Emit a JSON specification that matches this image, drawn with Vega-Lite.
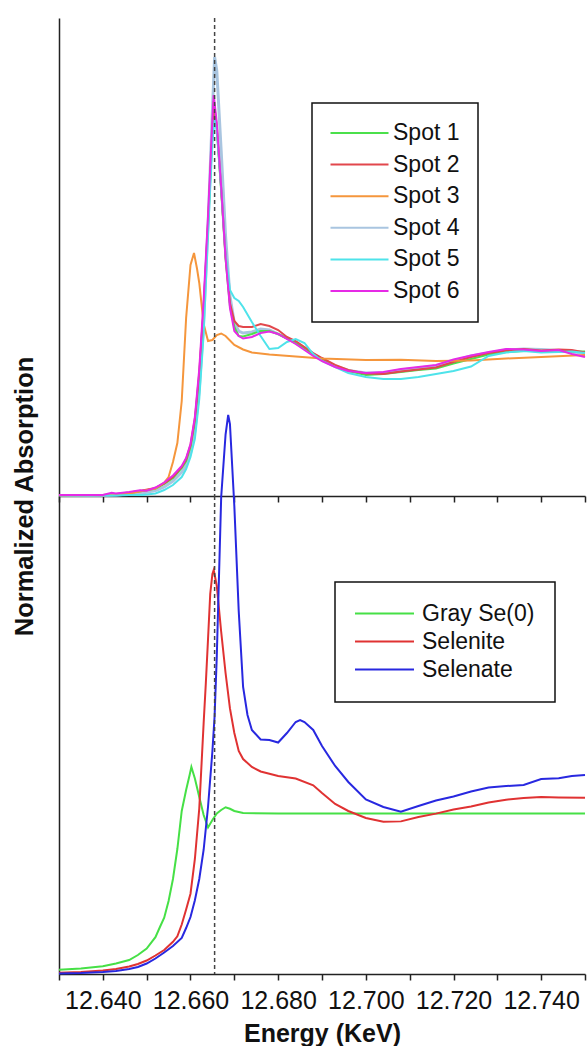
{
"$schema": "https://vega.github.io/schema/vega-lite/v6.json",
"padding": {"left": 12, "top": 17, "right": 0, "bottom": 0},
"config": {"font": "Liberation Sans", "view": {"stroke": null}, "axis": {"grid": false, "domainColor": "#222", "domainWidth": 1.5, "tickColor": "#222", "tickWidth": 1.5}},
"datasets": {
"edge": [{"energy": 12.6655}],
"spots": [
{"energy":12.630,"absorption":0.004,"sample":"Spot 4"},{"energy":12.635,"absorption":0.004,"sample":"Spot 4"},{"energy":12.640,"absorption":0.004,"sample":"Spot 4"},{"energy":12.643,"absorption":0.008,"sample":"Spot 4"},{"energy":12.646,"absorption":0.016,"sample":"Spot 4"},{"energy":12.649,"absorption":0.024,"sample":"Spot 4"},{"energy":12.652,"absorption":0.044,"sample":"Spot 4"},{"energy":12.654,"absorption":0.072,"sample":"Spot 4"},{"energy":12.656,"absorption":0.120,"sample":"Spot 4"},{"energy":12.658,"absorption":0.192,"sample":"Spot 4"},{"energy":12.659,"absorption":0.248,"sample":"Spot 4"},{"energy":12.660,"absorption":0.344,"sample":"Spot 4"},{"energy":12.661,"absorption":0.520,"sample":"Spot 4"},{"energy":12.662,"absorption":0.856,"sample":"Spot 4"},{"energy":12.663,"absorption":1.400,"sample":"Spot 4"},{"energy":12.664,"absorption":2.160,"sample":"Spot 4"},{"energy":12.665,"absorption":3.080,"sample":"Spot 4"},{"energy":12.6655,"absorption":3.512,"sample":"Spot 4"},{"energy":12.666,"absorption":3.400,"sample":"Spot 4"},{"energy":12.667,"absorption":2.760,"sample":"Spot 4"},{"energy":12.668,"absorption":2.080,"sample":"Spot 4"},{"energy":12.669,"absorption":1.600,"sample":"Spot 4"},{"energy":12.670,"absorption":1.384,"sample":"Spot 4"},{"energy":12.671,"absorption":1.320,"sample":"Spot 4"},{"energy":12.672,"absorption":1.304,"sample":"Spot 4"},{"energy":12.674,"absorption":1.312,"sample":"Spot 4"},{"energy":12.676,"absorption":1.336,"sample":"Spot 4"},{"energy":12.678,"absorption":1.328,"sample":"Spot 4"},{"energy":12.680,"absorption":1.296,"sample":"Spot 4"},{"energy":12.682,"absorption":1.264,"sample":"Spot 4"},{"energy":12.684,"absorption":1.224,"sample":"Spot 4"},{"energy":12.686,"absorption":1.184,"sample":"Spot 4"},{"energy":12.688,"absorption":1.136,"sample":"Spot 4"},{"energy":12.690,"absorption":1.096,"sample":"Spot 4"},{"energy":12.693,"absorption":1.040,"sample":"Spot 4"},{"energy":12.696,"absorption":1.004,"sample":"Spot 4"},{"energy":12.700,"absorption":0.984,"sample":"Spot 4"},{"energy":12.704,"absorption":0.984,"sample":"Spot 4"},{"energy":12.708,"absorption":1.008,"sample":"Spot 4"},{"energy":12.712,"absorption":1.024,"sample":"Spot 4"},{"energy":12.716,"absorption":1.040,"sample":"Spot 4"},{"energy":12.720,"absorption":1.080,"sample":"Spot 4"},{"energy":12.724,"absorption":1.120,"sample":"Spot 4"},{"energy":12.728,"absorption":1.144,"sample":"Spot 4"},{"energy":12.732,"absorption":1.168,"sample":"Spot 4"},{"energy":12.736,"absorption":1.176,"sample":"Spot 4"},{"energy":12.740,"absorption":1.172,"sample":"Spot 4"},{"energy":12.744,"absorption":1.164,"sample":"Spot 4"},{"energy":12.747,"absorption":1.152,"sample":"Spot 4"},{"energy":12.750,"absorption":1.144,"sample":"Spot 4"},
{"energy":12.630,"absorption":0.008,"sample":"Spot 1"},{"energy":12.635,"absorption":0.008,"sample":"Spot 1"},{"energy":12.640,"absorption":0.008,"sample":"Spot 1"},{"energy":12.643,"absorption":0.012,"sample":"Spot 1"},{"energy":12.646,"absorption":0.024,"sample":"Spot 1"},{"energy":12.649,"absorption":0.040,"sample":"Spot 1"},{"energy":12.652,"absorption":0.060,"sample":"Spot 1"},{"energy":12.654,"absorption":0.096,"sample":"Spot 1"},{"energy":12.656,"absorption":0.144,"sample":"Spot 1"},{"energy":12.658,"absorption":0.224,"sample":"Spot 1"},{"energy":12.659,"absorption":0.280,"sample":"Spot 1"},{"energy":12.660,"absorption":0.392,"sample":"Spot 1"},{"energy":12.661,"absorption":0.592,"sample":"Spot 1"},{"energy":12.662,"absorption":0.960,"sample":"Spot 1"},{"energy":12.663,"absorption":1.496,"sample":"Spot 1"},{"energy":12.664,"absorption":2.160,"sample":"Spot 1"},{"energy":12.665,"absorption":2.904,"sample":"Spot 1"},{"energy":12.6653,"absorption":3.112,"sample":"Spot 1"},{"energy":12.666,"absorption":2.936,"sample":"Spot 1"},{"energy":12.667,"absorption":2.440,"sample":"Spot 1"},{"energy":12.668,"absorption":1.896,"sample":"Spot 1"},{"energy":12.669,"absorption":1.520,"sample":"Spot 1"},{"energy":12.670,"absorption":1.352,"sample":"Spot 1"},{"energy":12.671,"absorption":1.280,"sample":"Spot 1"},{"energy":12.672,"absorption":1.276,"sample":"Spot 1"},{"energy":12.674,"absorption":1.296,"sample":"Spot 1"},{"energy":12.676,"absorption":1.320,"sample":"Spot 1"},{"energy":12.678,"absorption":1.320,"sample":"Spot 1"},{"energy":12.680,"absorption":1.296,"sample":"Spot 1"},{"energy":12.682,"absorption":1.260,"sample":"Spot 1"},{"energy":12.684,"absorption":1.224,"sample":"Spot 1"},{"energy":12.686,"absorption":1.184,"sample":"Spot 1"},{"energy":12.688,"absorption":1.136,"sample":"Spot 1"},{"energy":12.690,"absorption":1.096,"sample":"Spot 1"},{"energy":12.693,"absorption":1.040,"sample":"Spot 1"},{"energy":12.696,"absorption":1.000,"sample":"Spot 1"},{"energy":12.700,"absorption":0.968,"sample":"Spot 1"},{"energy":12.704,"absorption":0.976,"sample":"Spot 1"},{"energy":12.708,"absorption":0.992,"sample":"Spot 1"},{"energy":12.712,"absorption":1.008,"sample":"Spot 1"},{"energy":12.716,"absorption":1.020,"sample":"Spot 1"},{"energy":12.720,"absorption":1.060,"sample":"Spot 1"},{"energy":12.724,"absorption":1.096,"sample":"Spot 1"},{"energy":12.728,"absorption":1.132,"sample":"Spot 1"},{"energy":12.732,"absorption":1.152,"sample":"Spot 1"},{"energy":12.736,"absorption":1.160,"sample":"Spot 1"},{"energy":12.740,"absorption":1.160,"sample":"Spot 1"},{"energy":12.744,"absorption":1.160,"sample":"Spot 1"},{"energy":12.747,"absorption":1.156,"sample":"Spot 1"},{"energy":12.750,"absorption":1.156,"sample":"Spot 1"},
{"energy":12.630,"absorption":0.004,"sample":"Spot 2"},{"energy":12.635,"absorption":0.008,"sample":"Spot 2"},{"energy":12.640,"absorption":0.004,"sample":"Spot 2"},{"energy":12.643,"absorption":0.016,"sample":"Spot 2"},{"energy":12.646,"absorption":0.028,"sample":"Spot 2"},{"energy":12.649,"absorption":0.044,"sample":"Spot 2"},{"energy":12.652,"absorption":0.064,"sample":"Spot 2"},{"energy":12.654,"absorption":0.100,"sample":"Spot 2"},{"energy":12.656,"absorption":0.152,"sample":"Spot 2"},{"energy":12.658,"absorption":0.232,"sample":"Spot 2"},{"energy":12.659,"absorption":0.296,"sample":"Spot 2"},{"energy":12.660,"absorption":0.408,"sample":"Spot 2"},{"energy":12.661,"absorption":0.616,"sample":"Spot 2"},{"energy":12.662,"absorption":0.984,"sample":"Spot 2"},{"energy":12.663,"absorption":1.520,"sample":"Spot 2"},{"energy":12.664,"absorption":2.184,"sample":"Spot 2"},{"energy":12.665,"absorption":2.936,"sample":"Spot 2"},{"energy":12.6653,"absorption":3.160,"sample":"Spot 2"},{"energy":12.666,"absorption":2.960,"sample":"Spot 2"},{"energy":12.667,"absorption":2.456,"sample":"Spot 2"},{"energy":12.668,"absorption":1.920,"sample":"Spot 2"},{"energy":12.669,"absorption":1.544,"sample":"Spot 2"},{"energy":12.670,"absorption":1.400,"sample":"Spot 2"},{"energy":12.671,"absorption":1.360,"sample":"Spot 2"},{"energy":12.672,"absorption":1.352,"sample":"Spot 2"},{"energy":12.674,"absorption":1.352,"sample":"Spot 2"},{"energy":12.676,"absorption":1.376,"sample":"Spot 2"},{"energy":12.678,"absorption":1.360,"sample":"Spot 2"},{"energy":12.680,"absorption":1.328,"sample":"Spot 2"},{"energy":12.682,"absorption":1.272,"sample":"Spot 2"},{"energy":12.684,"absorption":1.240,"sample":"Spot 2"},{"energy":12.686,"absorption":1.192,"sample":"Spot 2"},{"energy":12.688,"absorption":1.144,"sample":"Spot 2"},{"energy":12.690,"absorption":1.104,"sample":"Spot 2"},{"energy":12.693,"absorption":1.048,"sample":"Spot 2"},{"energy":12.696,"absorption":1.008,"sample":"Spot 2"},{"energy":12.700,"absorption":0.980,"sample":"Spot 2"},{"energy":12.704,"absorption":0.976,"sample":"Spot 2"},{"energy":12.708,"absorption":0.996,"sample":"Spot 2"},{"energy":12.712,"absorption":1.012,"sample":"Spot 2"},{"energy":12.716,"absorption":1.028,"sample":"Spot 2"},{"energy":12.720,"absorption":1.072,"sample":"Spot 2"},{"energy":12.724,"absorption":1.112,"sample":"Spot 2"},{"energy":12.728,"absorption":1.144,"sample":"Spot 2"},{"energy":12.732,"absorption":1.164,"sample":"Spot 2"},{"energy":12.736,"absorption":1.176,"sample":"Spot 2"},{"energy":12.740,"absorption":1.164,"sample":"Spot 2"},{"energy":12.744,"absorption":1.172,"sample":"Spot 2"},{"energy":12.747,"absorption":1.168,"sample":"Spot 2"},{"energy":12.750,"absorption":1.148,"sample":"Spot 2"},
{"energy":12.630,"absorption":0.004,"sample":"Spot 3"},{"energy":12.640,"absorption":0.008,"sample":"Spot 3"},{"energy":12.646,"absorption":0.020,"sample":"Spot 3"},{"energy":12.649,"absorption":0.040,"sample":"Spot 3"},{"energy":12.652,"absorption":0.060,"sample":"Spot 3"},{"energy":12.654,"absorption":0.108,"sample":"Spot 3"},{"energy":12.655,"absorption":0.152,"sample":"Spot 3"},{"energy":12.656,"absorption":0.272,"sample":"Spot 3"},{"energy":12.657,"absorption":0.424,"sample":"Spot 3"},{"energy":12.658,"absorption":0.760,"sample":"Spot 3"},{"energy":12.659,"absorption":1.424,"sample":"Spot 3"},{"energy":12.660,"absorption":1.848,"sample":"Spot 3"},{"energy":12.6608,"absorption":1.944,"sample":"Spot 3"},{"energy":12.6615,"absorption":1.816,"sample":"Spot 3"},{"energy":12.662,"absorption":1.704,"sample":"Spot 3"},{"energy":12.663,"absorption":1.376,"sample":"Spot 3"},{"energy":12.664,"absorption":1.240,"sample":"Spot 3"},{"energy":12.665,"absorption":1.248,"sample":"Spot 3"},{"energy":12.666,"absorption":1.288,"sample":"Spot 3"},{"energy":12.667,"absorption":1.300,"sample":"Spot 3"},{"energy":12.668,"absorption":1.280,"sample":"Spot 3"},{"energy":12.670,"absorption":1.208,"sample":"Spot 3"},{"energy":12.672,"absorption":1.172,"sample":"Spot 3"},{"energy":12.674,"absorption":1.148,"sample":"Spot 3"},{"energy":12.678,"absorption":1.132,"sample":"Spot 3"},{"energy":12.684,"absorption":1.116,"sample":"Spot 3"},{"energy":12.690,"absorption":1.100,"sample":"Spot 3"},{"energy":12.700,"absorption":1.088,"sample":"Spot 3"},{"energy":12.708,"absorption":1.090,"sample":"Spot 3"},{"energy":12.716,"absorption":1.080,"sample":"Spot 3"},{"energy":12.724,"absorption":1.084,"sample":"Spot 3"},{"energy":12.732,"absorption":1.100,"sample":"Spot 3"},{"energy":12.740,"absorption":1.112,"sample":"Spot 3"},{"energy":12.750,"absorption":1.128,"sample":"Spot 3"},
{"energy":12.630,"absorption":0.004,"sample":"Spot 5"},{"energy":12.635,"absorption":0.004,"sample":"Spot 5"},{"energy":12.640,"absorption":0.004,"sample":"Spot 5"},{"energy":12.643,"absorption":0.004,"sample":"Spot 5"},{"energy":12.646,"absorption":0.008,"sample":"Spot 5"},{"energy":12.649,"absorption":0.008,"sample":"Spot 5"},{"energy":12.652,"absorption":0.020,"sample":"Spot 5"},{"energy":12.654,"absorption":0.048,"sample":"Spot 5"},{"energy":12.656,"absorption":0.088,"sample":"Spot 5"},{"energy":12.658,"absorption":0.152,"sample":"Spot 5"},{"energy":12.659,"absorption":0.216,"sample":"Spot 5"},{"energy":12.660,"absorption":0.312,"sample":"Spot 5"},{"energy":12.661,"absorption":0.458,"sample":"Spot 5"},{"energy":12.662,"absorption":0.776,"sample":"Spot 5"},{"energy":12.663,"absorption":1.296,"sample":"Spot 5"},{"energy":12.664,"absorption":2.104,"sample":"Spot 5"},{"energy":12.665,"absorption":2.824,"sample":"Spot 5"},{"energy":12.6655,"absorption":3.016,"sample":"Spot 5"},{"energy":12.666,"absorption":2.928,"sample":"Spot 5"},{"energy":12.667,"absorption":2.456,"sample":"Spot 5"},{"energy":12.668,"absorption":1.936,"sample":"Spot 5"},{"energy":12.669,"absorption":1.648,"sample":"Spot 5"},{"energy":12.670,"absorption":1.584,"sample":"Spot 5"},{"energy":12.671,"absorption":1.560,"sample":"Spot 5"},{"energy":12.672,"absorption":1.512,"sample":"Spot 5"},{"energy":12.674,"absorption":1.392,"sample":"Spot 5"},{"energy":12.676,"absorption":1.280,"sample":"Spot 5"},{"energy":12.678,"absorption":1.176,"sample":"Spot 5"},{"energy":12.680,"absorption":1.184,"sample":"Spot 5"},{"energy":12.682,"absorption":1.232,"sample":"Spot 5"},{"energy":12.684,"absorption":1.256,"sample":"Spot 5"},{"energy":12.686,"absorption":1.224,"sample":"Spot 5"},{"energy":12.688,"absorption":1.136,"sample":"Spot 5"},{"energy":12.690,"absorption":1.080,"sample":"Spot 5"},{"energy":12.693,"absorption":1.032,"sample":"Spot 5"},{"energy":12.696,"absorption":0.984,"sample":"Spot 5"},{"energy":12.700,"absorption":0.952,"sample":"Spot 5"},{"energy":12.704,"absorption":0.936,"sample":"Spot 5"},{"energy":12.708,"absorption":0.936,"sample":"Spot 5"},{"energy":12.712,"absorption":0.952,"sample":"Spot 5"},{"energy":12.716,"absorption":0.976,"sample":"Spot 5"},{"energy":12.720,"absorption":1.000,"sample":"Spot 5"},{"energy":12.724,"absorption":1.036,"sample":"Spot 5"},{"energy":12.728,"absorption":1.120,"sample":"Spot 5"},{"energy":12.732,"absorption":1.148,"sample":"Spot 5"},{"energy":12.736,"absorption":1.160,"sample":"Spot 5"},{"energy":12.740,"absorption":1.148,"sample":"Spot 5"},{"energy":12.744,"absorption":1.152,"sample":"Spot 5"},{"energy":12.747,"absorption":1.156,"sample":"Spot 5"},{"energy":12.750,"absorption":1.144,"sample":"Spot 5"},
{"energy":12.630,"absorption":0.008,"sample":"Spot 6"},{"energy":12.635,"absorption":0.008,"sample":"Spot 6"},{"energy":12.640,"absorption":0.008,"sample":"Spot 6"},{"energy":12.642,"absorption":0.026,"sample":"Spot 6"},{"energy":12.643,"absorption":0.020,"sample":"Spot 6"},{"energy":12.646,"absorption":0.032,"sample":"Spot 6"},{"energy":12.6485,"absorption":0.046,"sample":"Spot 6"},{"energy":12.650,"absorption":0.042,"sample":"Spot 6"},{"energy":12.652,"absorption":0.068,"sample":"Spot 6"},{"energy":12.654,"absorption":0.108,"sample":"Spot 6"},{"energy":12.656,"absorption":0.164,"sample":"Spot 6"},{"energy":12.658,"absorption":0.240,"sample":"Spot 6"},{"energy":12.659,"absorption":0.304,"sample":"Spot 6"},{"energy":12.660,"absorption":0.416,"sample":"Spot 6"},{"energy":12.661,"absorption":0.632,"sample":"Spot 6"},{"energy":12.662,"absorption":1.016,"sample":"Spot 6"},{"energy":12.663,"absorption":1.568,"sample":"Spot 6"},{"energy":12.664,"absorption":2.240,"sample":"Spot 6"},{"energy":12.665,"absorption":3.016,"sample":"Spot 6"},{"energy":12.6653,"absorption":3.208,"sample":"Spot 6"},{"energy":12.666,"absorption":2.984,"sample":"Spot 6"},{"energy":12.667,"absorption":2.472,"sample":"Spot 6"},{"energy":12.668,"absorption":1.904,"sample":"Spot 6"},{"energy":12.669,"absorption":1.504,"sample":"Spot 6"},{"energy":12.670,"absorption":1.320,"sample":"Spot 6"},{"energy":12.671,"absorption":1.280,"sample":"Spot 6"},{"energy":12.672,"absorption":1.260,"sample":"Spot 6"},{"energy":12.674,"absorption":1.272,"sample":"Spot 6"},{"energy":12.676,"absorption":1.304,"sample":"Spot 6"},{"energy":12.678,"absorption":1.316,"sample":"Spot 6"},{"energy":12.680,"absorption":1.296,"sample":"Spot 6"},{"energy":12.682,"absorption":1.256,"sample":"Spot 6"},{"energy":12.684,"absorption":1.216,"sample":"Spot 6"},{"energy":12.686,"absorption":1.168,"sample":"Spot 6"},{"energy":12.688,"absorption":1.120,"sample":"Spot 6"},{"energy":12.690,"absorption":1.080,"sample":"Spot 6"},{"energy":12.693,"absorption":1.032,"sample":"Spot 6"},{"energy":12.696,"absorption":1.000,"sample":"Spot 6"},{"energy":12.700,"absorption":0.984,"sample":"Spot 6"},{"energy":12.704,"absorption":0.992,"sample":"Spot 6"},{"energy":12.708,"absorption":1.016,"sample":"Spot 6"},{"energy":12.712,"absorption":1.032,"sample":"Spot 6"},{"energy":12.716,"absorption":1.048,"sample":"Spot 6"},{"energy":12.720,"absorption":1.092,"sample":"Spot 6"},{"energy":12.724,"absorption":1.124,"sample":"Spot 6"},{"energy":12.728,"absorption":1.152,"sample":"Spot 6"},{"energy":12.732,"absorption":1.176,"sample":"Spot 6"},{"energy":12.736,"absorption":1.172,"sample":"Spot 6"},{"energy":12.740,"absorption":1.160,"sample":"Spot 6"},{"energy":12.744,"absorption":1.168,"sample":"Spot 6"},{"energy":12.747,"absorption":1.136,"sample":"Spot 6"},{"energy":12.750,"absorption":1.112,"sample":"Spot 6"}
],
"standards": [
{"energy":12.630,"absorption":0.034,"sample":"Gray Se(0)"},{"energy":12.635,"absorption":0.044,"sample":"Gray Se(0)"},{"energy":12.640,"absorption":0.062,"sample":"Gray Se(0)"},{"energy":12.643,"absorption":0.084,"sample":"Gray Se(0)"},{"energy":12.646,"absorption":0.112,"sample":"Gray Se(0)"},{"energy":12.648,"absorption":0.152,"sample":"Gray Se(0)"},{"energy":12.650,"absorption":0.204,"sample":"Gray Se(0)"},{"energy":12.652,"absorption":0.295,"sample":"Gray Se(0)"},{"energy":12.653,"absorption":0.374,"sample":"Gray Se(0)"},{"energy":12.654,"absorption":0.450,"sample":"Gray Se(0)"},{"energy":12.655,"absorption":0.584,"sample":"Gray Se(0)"},{"energy":12.656,"absorption":0.760,"sample":"Gray Se(0)"},{"energy":12.657,"absorption":1.000,"sample":"Gray Se(0)"},{"energy":12.658,"absorption":1.304,"sample":"Gray Se(0)"},{"energy":12.659,"absorption":1.472,"sample":"Gray Se(0)"},{"energy":12.6598,"absorption":1.592,"sample":"Gray Se(0)"},{"energy":12.6602,"absorption":1.656,"sample":"Gray Se(0)"},{"energy":12.661,"absorption":1.564,"sample":"Gray Se(0)"},{"energy":12.662,"absorption":1.416,"sample":"Gray Se(0)"},{"energy":12.663,"absorption":1.272,"sample":"Gray Se(0)"},{"energy":12.664,"absorption":1.172,"sample":"Gray Se(0)"},{"energy":12.665,"absorption":1.232,"sample":"Gray Se(0)"},{"energy":12.666,"absorption":1.285,"sample":"Gray Se(0)"},{"energy":12.667,"absorption":1.312,"sample":"Gray Se(0)"},{"energy":12.668,"absorption":1.334,"sample":"Gray Se(0)"},{"energy":12.669,"absorption":1.322,"sample":"Gray Se(0)"},{"energy":12.670,"absorption":1.304,"sample":"Gray Se(0)"},{"energy":12.672,"absorption":1.288,"sample":"Gray Se(0)"},{"energy":12.680,"absorption":1.284,"sample":"Gray Se(0)"},{"energy":12.700,"absorption":1.284,"sample":"Gray Se(0)"},{"energy":12.720,"absorption":1.284,"sample":"Gray Se(0)"},{"energy":12.750,"absorption":1.284,"sample":"Gray Se(0)"},
{"energy":12.630,"absorption":0.010,"sample":"Selenite"},{"energy":12.635,"absorption":0.016,"sample":"Selenite"},{"energy":12.640,"absorption":0.028,"sample":"Selenite"},{"energy":12.643,"absorption":0.040,"sample":"Selenite"},{"energy":12.646,"absorption":0.060,"sample":"Selenite"},{"energy":12.648,"absorption":0.080,"sample":"Selenite"},{"energy":12.650,"absorption":0.108,"sample":"Selenite"},{"energy":12.652,"absorption":0.148,"sample":"Selenite"},{"energy":12.654,"absorption":0.192,"sample":"Selenite"},{"energy":12.656,"absorption":0.258,"sample":"Selenite"},{"energy":12.657,"absorption":0.302,"sample":"Selenite"},{"energy":12.658,"absorption":0.396,"sample":"Selenite"},{"energy":12.659,"absorption":0.516,"sample":"Selenite"},{"energy":12.660,"absorption":0.642,"sample":"Selenite"},{"energy":12.661,"absorption":0.920,"sample":"Selenite"},{"energy":12.662,"absorption":1.324,"sample":"Selenite"},{"energy":12.663,"absorption":2.008,"sample":"Selenite"},{"energy":12.6635,"absorption":2.328,"sample":"Selenite"},{"energy":12.664,"absorption":2.680,"sample":"Selenite"},{"energy":12.6645,"absorption":3.040,"sample":"Selenite"},{"energy":12.665,"absorption":3.200,"sample":"Selenite"},{"energy":12.6653,"absorption":3.232,"sample":"Selenite"},{"energy":12.666,"absorption":3.104,"sample":"Selenite"},{"energy":12.667,"absorption":2.738,"sample":"Selenite"},{"energy":12.668,"absorption":2.408,"sample":"Selenite"},{"energy":12.669,"absorption":2.125,"sample":"Selenite"},{"energy":12.670,"absorption":1.928,"sample":"Selenite"},{"energy":12.671,"absorption":1.784,"sample":"Selenite"},{"energy":12.672,"absorption":1.720,"sample":"Selenite"},{"energy":12.674,"absorption":1.656,"sample":"Selenite"},{"energy":12.676,"absorption":1.620,"sample":"Selenite"},{"energy":12.680,"absorption":1.584,"sample":"Selenite"},{"energy":12.684,"absorption":1.564,"sample":"Selenite"},{"energy":12.688,"absorption":1.510,"sample":"Selenite"},{"energy":12.690,"absorption":1.448,"sample":"Selenite"},{"energy":12.693,"absorption":1.360,"sample":"Selenite"},{"energy":12.696,"absorption":1.304,"sample":"Selenite"},{"energy":12.700,"absorption":1.248,"sample":"Selenite"},{"energy":12.704,"absorption":1.218,"sample":"Selenite"},{"energy":12.708,"absorption":1.221,"sample":"Selenite"},{"energy":12.712,"absorption":1.256,"sample":"Selenite"},{"energy":12.716,"absorption":1.283,"sample":"Selenite"},{"energy":12.720,"absorption":1.316,"sample":"Selenite"},{"energy":12.724,"absorption":1.340,"sample":"Selenite"},{"energy":12.728,"absorption":1.372,"sample":"Selenite"},{"energy":12.732,"absorption":1.394,"sample":"Selenite"},{"energy":12.736,"absorption":1.408,"sample":"Selenite"},{"energy":12.740,"absorption":1.416,"sample":"Selenite"},{"energy":12.744,"absorption":1.412,"sample":"Selenite"},{"energy":12.750,"absorption":1.410,"sample":"Selenite"},
{"energy":12.630,"absorption":0.004,"sample":"Selenate"},{"energy":12.635,"absorption":0.008,"sample":"Selenate"},{"energy":12.640,"absorption":0.016,"sample":"Selenate"},{"energy":12.643,"absorption":0.024,"sample":"Selenate"},{"energy":12.646,"absorption":0.040,"sample":"Selenate"},{"energy":12.648,"absorption":0.056,"sample":"Selenate"},{"energy":12.650,"absorption":0.084,"sample":"Selenate"},{"energy":12.652,"absorption":0.124,"sample":"Selenate"},{"energy":12.654,"absorption":0.172,"sample":"Selenate"},{"energy":12.656,"absorption":0.224,"sample":"Selenate"},{"energy":12.658,"absorption":0.288,"sample":"Selenate"},{"energy":12.659,"absorption":0.368,"sample":"Selenate"},{"energy":12.660,"absorption":0.456,"sample":"Selenate"},{"energy":12.661,"absorption":0.590,"sample":"Selenate"},{"energy":12.662,"absorption":0.760,"sample":"Selenate"},{"energy":12.663,"absorption":0.994,"sample":"Selenate"},{"energy":12.664,"absorption":1.338,"sample":"Selenate"},{"energy":12.665,"absorption":1.784,"sample":"Selenate"},{"energy":12.6655,"absorption":2.064,"sample":"Selenate"},{"energy":12.666,"absorption":2.544,"sample":"Selenate"},{"energy":12.667,"absorption":3.816,"sample":"Selenate"},{"energy":12.668,"absorption":4.316,"sample":"Selenate"},{"energy":12.6686,"absorption":4.472,"sample":"Selenate"},{"energy":12.669,"absorption":4.400,"sample":"Selenate"},{"energy":12.670,"absorption":3.744,"sample":"Selenate"},{"energy":12.671,"absorption":2.904,"sample":"Selenate"},{"energy":12.672,"absorption":2.296,"sample":"Selenate"},{"energy":12.673,"absorption":2.072,"sample":"Selenate"},{"energy":12.674,"absorption":1.952,"sample":"Selenate"},{"energy":12.676,"absorption":1.876,"sample":"Selenate"},{"energy":12.678,"absorption":1.872,"sample":"Selenate"},{"energy":12.680,"absorption":1.852,"sample":"Selenate"},{"energy":12.682,"absorption":1.928,"sample":"Selenate"},{"energy":12.684,"absorption":2.016,"sample":"Selenate"},{"energy":12.685,"absorption":2.032,"sample":"Selenate"},{"energy":12.686,"absorption":2.016,"sample":"Selenate"},{"energy":12.688,"absorption":1.952,"sample":"Selenate"},{"energy":12.690,"absorption":1.824,"sample":"Selenate"},{"energy":12.693,"absorption":1.664,"sample":"Selenate"},{"energy":12.696,"absorption":1.536,"sample":"Selenate"},{"energy":12.700,"absorption":1.396,"sample":"Selenate"},{"energy":12.704,"absorption":1.336,"sample":"Selenate"},{"energy":12.708,"absorption":1.298,"sample":"Selenate"},{"energy":12.712,"absorption":1.344,"sample":"Selenate"},{"energy":12.716,"absorption":1.388,"sample":"Selenate"},{"energy":12.720,"absorption":1.420,"sample":"Selenate"},{"energy":12.724,"absorption":1.460,"sample":"Selenate"},{"energy":12.728,"absorption":1.492,"sample":"Selenate"},{"energy":12.732,"absorption":1.504,"sample":"Selenate"},{"energy":12.736,"absorption":1.512,"sample":"Selenate"},{"energy":12.740,"absorption":1.560,"sample":"Selenate"},{"energy":12.744,"absorption":1.566,"sample":"Selenate"},{"energy":12.747,"absorption":1.584,"sample":"Selenate"},{"energy":12.750,"absorption":1.592,"sample":"Selenate"}
]
},
"bounds": "flush",
"spacing": 0,
"resolve": {"scale": {"x": "independent", "y": "independent", "color": "independent"}},
"vconcat": [
{
"width": 526, "height": 478,
"layer": [
{"data": {"name": "spots"},
 "mark": {"type": "line"},
 "encoding": {
  "x": {"field": "energy", "type": "quantitative", "scale": {"domain": [12.63, 12.75], "nice": false, "zero": false},
        "axis": {"values": [12.63,12.64,12.65,12.66,12.67,12.68,12.69,12.7,12.71,12.72,12.73,12.74,12.75], "labels": false, "title": null, "tickSize": 6}},
  "y": {"field": "absorption", "type": "quantitative", "scale": {"domain": [0, 3.824], "nice": false, "zero": false},
        "axis": {"ticks": false, "labels": false, "title": "Normalized Absorption", "titleFontSize": 25.5, "titleFontWeight": "bold", "titleColor": "#111", "titleAngle": -90, "titleAlign": "center", "titleBaseline": "alphabetic", "titleX": -27, "titleY": 478}},
  "strokeWidth": {"condition": {"test": "datum.sample == 'Spot 4'", "value": 3}, "value": 2},
  "color": {"field": "sample", "type": "nominal",
            "scale": {"domain": ["Spot 1","Spot 2","Spot 3","Spot 4","Spot 5","Spot 6"], "range": ["#4be04b","#e2474c","#f5963c","#a9c5e0","#4ee3ea","#e62ae6"]},
            "legend": {"title": null, "orient": "none", "legendX": 253, "legendY": 85, "symbolType": "M-2.9,0H2.9", "symbolSize": 400, "symbolOffset": 17.5, "symbolStrokeWidth": 2, "labelFontSize": 23, "labelColor": "#111", "labelOffset": 22, "rowPadding": 7.6, "padding": 18.5, "strokeColor": "#111",
                       "encode": {"legend": {"update": {"strokeWidth": {"value": 1.5}}}}}}
 }},
{"data": {"name": "edge"},
 "mark": {"type": "rule", "strokeDash": [4, 3], "color": "#444", "strokeWidth": 1.5},
 "encoding": {"x": {"field": "energy", "type": "quantitative"}}}
]
},
{
"width": 526, "height": 478,
"layer": [
{"data": {"name": "standards"},
 "mark": {"type": "line", "strokeWidth": 2},
 "encoding": {
  "x": {"field": "energy", "type": "quantitative", "scale": {"domain": [12.63, 12.75], "nice": false, "zero": false},
        "axis": {"values": [12.63,12.64,12.65,12.66,12.67,12.68,12.69,12.7,12.71,12.72,12.73,12.74,12.75], "labelExpr": "round(datum.value*1000) % 20 == 0 ? format(datum.value, '.3f') : ''", "tickSize": 6, "labelFontSize": 25, "labelColor": "#111", "labelPadding": 8, "labelOverlap": false, "labelFlush": false, "title": "Energy (KeV)", "titleFontSize": 25, "titleFontWeight": "bold", "titleColor": "#111", "titlePadding": 8}},
  "y": {"field": "absorption", "type": "quantitative", "scale": {"domain": [0, 3.824], "nice": false, "zero": false},
        "axis": {"ticks": false, "labels": false, "title": null}},
  "color": {"field": "sample", "type": "nominal",
            "scale": {"domain": ["Gray Se(0)","Selenite","Selenate"], "range": ["#46e046","#e03232","#2828e0"]},
            "legend": {"title": null, "orient": "none", "legendX": 276, "legendY": 86, "symbolType": "M-2.95,0H2.95", "symbolSize": 400, "symbolOffset": 18, "symbolStrokeWidth": 2, "labelFontSize": 23, "labelColor": "#111", "labelOffset": 26, "rowPadding": 4, "padding": 20, "strokeColor": "#111",
                       "encode": {"legend": {"update": {"strokeWidth": {"value": 1.5}}}}}}
 }},
{"data": {"name": "edge"},
 "mark": {"type": "rule", "strokeDash": [4, 3], "color": "#444", "strokeWidth": 1.5},
 "encoding": {"x": {"field": "energy", "type": "quantitative"}}}
]
}
]
}
